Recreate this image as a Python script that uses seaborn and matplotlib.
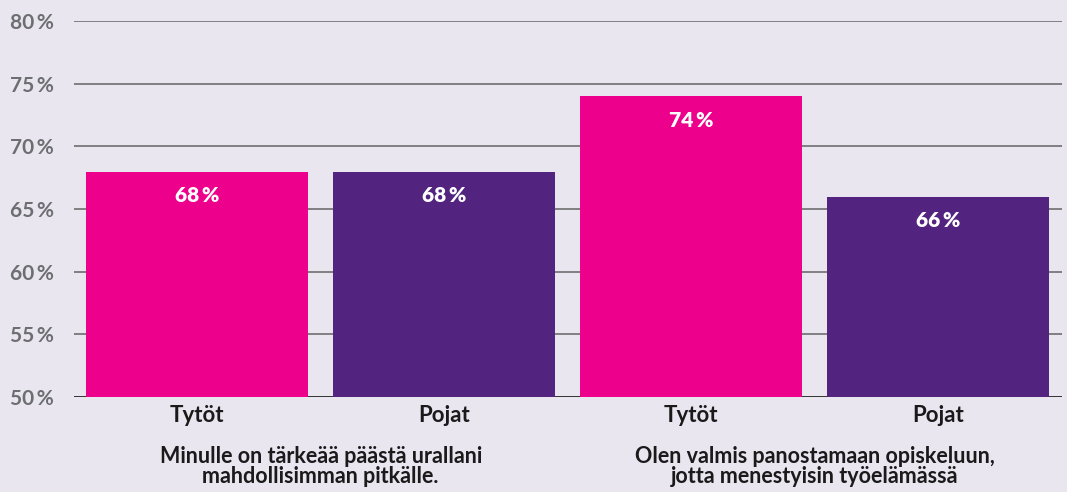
import pandas as pd
import matplotlib.pyplot as plt
import seaborn as sns

genders = ["Tytöt", "Pojat", "Tytöt", "Pojat"]
values = [68, 68, 74, 66]
groups = ["Minulle on tärkeää päästä urallani\nmahdollisimman pitkälle.",
          "Olen valmis panostamaan opiskeluun,\njotta menestyisin työelämässä"]
yticks = [50, 55, 60, 65, 70, 75, 80]

bg = "#e9e6f0"
colors = {"Tytöt": "#ec008c", "Pojat": "#52247f"}

df = pd.DataFrame({"pos": range(len(values)), "gender": genders, "value": values})

sns.set_style("white")
plt.rcParams["font.family"] = ["Lato", "DejaVu Sans"]

fig = plt.figure(figsize=(10.67, 4.92), dpi=100, facecolor=bg)
ax = fig.add_axes([0.069, 0.193, 0.926, 0.764])
ax.set_facecolor(bg)

sns.barplot(data=df, x="pos", y="value", hue="gender", palette=colors, saturation=1,
            dodge=False, width=0.9, legend=False, ax=ax, zorder=3, linewidth=0)

ax.set_ylim(50, 80)
ax.set_yticks(yticks)
ax.set_yticklabels([f"{t}\u2009%" for t in yticks], fontsize=15, fontweight="bold", color="#6d6e71")
for t in yticks:
    ax.axhline(t, color="#333333" if t == 50 else "#808083", lw=1.4, zorder=1)

ax.set_xticks(range(len(genders)))
ax.set_xticklabels(genders, fontsize=16, fontweight="bold", color="#1a1a1a")
ax.tick_params(axis="both", length=0, pad=6)
ax.tick_params(axis="y", pad=14)
ax.set_xlabel("")
ax.set_ylabel("")
for s in ax.spines.values():
    s.set_visible(False)

for i, v in enumerate(values):
    ax.text(i, v - 1.9, f"{v}\u2009%", ha="center", va="center", color="white",
            fontsize=15, fontweight="heavy", zorder=4)

for j, g in enumerate(groups):
    ax.text(0.5 + 2 * j, -0.13, g, transform=ax.get_xaxis_transform(), ha="center",
            va="top", fontsize=15.5, fontweight="bold", color="#1a1a1a", linespacing=0.92)

fig.savefig("out.png", dpi=100, facecolor=bg)
